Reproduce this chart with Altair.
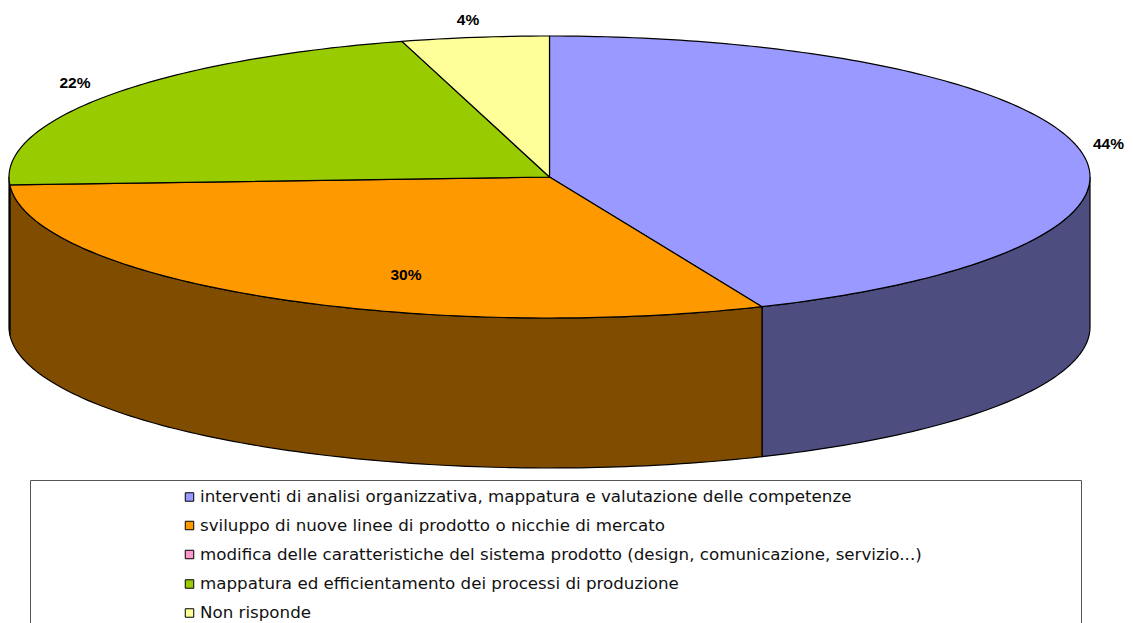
import math
import altair as alt
import pandas as pd

# --- chart values -------------------------------------------------------
categories = [
    "interventi di analisi organizzativa, mappatura e valutazione delle competenze",
    "sviluppo di nuove linee di prodotto o nicchie di mercato",
    "modifica delle caratteristiche del sistema prodotto (design, comunicazione, servizio...)",
    "mappatura ed efficientamento dei processi di produzione",
    "Non risponde",
]
shares = [43.57, 30.53, 0.0, 21.5, 4.4]      # slice size
labels = ["44%", "30%", "", "22%", "4%"]

# --- style / layout -----------------------------------------------------
top_colors = ["#9999FF", "#FF9900", "#FF99CC", "#99CC00", "#FFFF99"]
side_colors = ["#4D4D80", "#804D00", "#804D66", "#4D6600", "#80804D"]
CX, CY, RX, RY, DEPTH = 549.5, 177.0, 540.5, 141.0, 150.0
label_x = [1108.5, 406, None, 75, 468]
label_y = [144, 275, None, 83, 20]
legend_y = [497, 525.5, 554.5, 584, 613]
W, H = 1125, 623   # right and lower limits of the drawing, in page pixels

xs = alt.Scale(domain=[8, W], range=[0, W - 8], nice=False, zero=False)
ys = alt.Scale(domain=[8, H], range=[0, H - 8], nice=False, zero=False)
X = alt.X("x:Q", scale=xs, axis=None)
Y = alt.Y("y:Q", scale=ys, axis=None)


def pt(theta, drop=0.0):
    r = math.radians(theta)
    return CX + RX * math.sin(r), CY - RY * math.cos(r) + drop


def arc(a, b):
    n = max(2, int(abs(b - a)) + 2)
    return [a + (b - a) * i / (n - 1) for i in range(n)]


def poly(points, fill):
    df = pd.DataFrame(points, columns=["x", "y"])
    df["i"] = range(len(df))
    return (
        alt.Chart(df)
        .mark_line(fill=fill, stroke="#000000", strokeWidth=1.2, strokeJoin="round", clip=True)
        .encode(x=X, y=Y, order=alt.Order("i:Q"))
    )


layers = []
starts = []
acc = 0.0
for s in shares:
    starts.append(acc * 3.6)
    acc += s

# side walls (only the front half of the rim is visible)
for s, a0, col in zip(shares, starts, side_colors):
    a1 = a0 + s * 3.6
    lo, hi = max(a0, 90), min(a1, 270)
    if s > 0 and hi > lo:
        angs = arc(lo, hi)
        p = [pt(t) for t in angs] + [pt(t, DEPTH) for t in reversed(angs)]
        p.append(p[0])
        layers.append(poly(p, col))

# top faces
for s, a0, col in zip(shares, starts, top_colors):
    if s > 0:
        angs = arc(a0, a0 + s * 3.6)
        p = [(CX, CY)] + [pt(t) for t in angs] + [(CX, CY)]
        layers.append(poly(p, col))

# percentage labels
lab = pd.DataFrame(
    [{"x": x, "y": y, "t": t} for x, y, t in zip(label_x, label_y, labels) if t]
)
layers.append(
    alt.Chart(lab)
    .mark_text(font="Liberation Sans", fontWeight="bold", fontSize=15.5, color="#000000",
               align="center", baseline="middle")
    .encode(x=X, y=Y, text="t:N")
)

# legend frame (runs past the lower edge of the picture)
frame = pd.DataFrame([{"x": 30.5, "x2": 1081.5, "y": 480.5, "y2": 660}])
layers.append(
    alt.Chart(frame)
    .mark_rect(fill="#FFFFFF", stroke="#555555", strokeWidth=1, clip=True)
    .encode(x=X, x2="x2:Q", y=Y, y2="y2:Q")
)

# legend rows
leg = pd.DataFrame({"y": legend_y, "t": categories, "c": top_colors})
leg["x"] = 189.5
leg["xt"] = 200
layers.append(
    alt.Chart(leg)
    .mark_square(size=72, stroke="#000000", strokeWidth=1, opacity=1)
    .encode(x=X, y=Y, fill=alt.Fill("c:N", scale=None, legend=None))
)
layers.append(
    alt.Chart(leg)
    .mark_text(font="DejaVu Sans", fontSize=16.7, color="#111111", align="left", baseline="middle")
    .encode(x=alt.X("xt:Q", scale=xs, axis=None), y=Y, text="t:N")
)

chart = (
    alt.layer(*layers)
    .properties(width=W - 8, height=H - 8, padding=0, autosize=alt.AutoSizeParams(type="none"),
                background="#FFFFFF")
    .configure_view(stroke=None)
    .resolve_scale(x="shared", y="shared")
)
chart.save("out.html", embed_options={"renderer": "svg", "actions": False})
